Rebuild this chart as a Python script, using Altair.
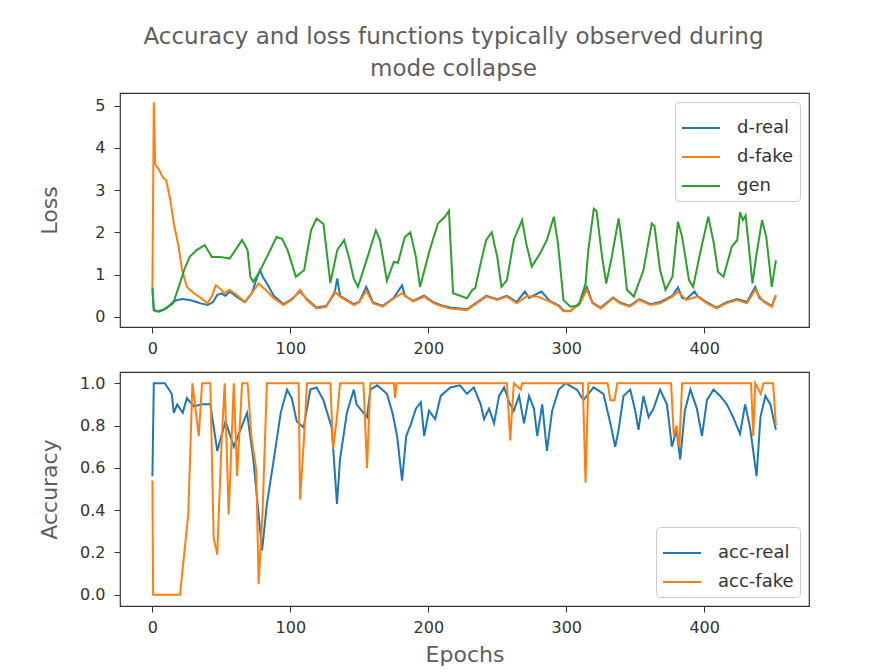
import altair as alt
import pandas as pd

# ---------------- data ----------------
gen_epochs = [0, 1, 3, 8, 15, 20, 23, 27, 32, 38, 43, 49, 56, 61, 65, 69, 71, 73, 77, 83,
              90, 94, 98, 104, 110, 115, 119, 124, 129, 134, 139, 143, 146, 149, 156, 162, 165,
              170, 175, 178, 183, 187, 191, 194, 201, 207, 212, 215, 216, 218, 228, 232, 234,
              239, 242, 246, 250, 253, 257, 262, 268, 271, 275, 281, 286, 291, 294, 298, 303,
              309, 314, 316, 320, 322, 326, 329, 333, 338, 341, 344, 349, 356, 362, 364, 368,
              372, 377, 381, 384, 389, 392, 397, 403, 407, 410, 414, 420, 424, 426, 428, 430,
              432, 435, 438, 442, 445, 449, 452]
gen_loss = [0.65, 0.18, 0.13, 0.17, 0.32, 0.80, 1.11, 1.42, 1.58, 1.70, 1.42, 1.42, 1.38, 1.62,
            1.82, 1.58, 0.95, 0.83, 1.03, 1.42, 1.89, 1.85, 1.58, 0.95, 1.11, 2.05, 2.33, 2.20,
            0.80, 1.58, 1.82, 1.34, 0.90, 0.71, 1.42, 2.05, 1.82, 0.85, 1.30, 1.28, 1.89, 2.00,
            1.42, 0.71, 1.58, 2.21, 2.37, 2.51, 1.82, 0.56, 0.44, 0.64, 0.68, 1.42, 1.82, 2.00,
            1.42, 0.71, 0.87, 1.82, 2.29, 1.74, 1.19, 1.50, 1.82, 2.37, 1.74, 0.40, 0.24, 0.27,
            0.79, 1.58, 2.56, 2.50, 1.42, 0.79, 1.42, 2.33, 1.58, 0.64, 0.48, 1.11, 2.21, 2.15,
            1.11, 0.64, 0.95, 2.25, 1.90, 0.87, 0.71, 1.50, 2.37, 1.74, 1.07, 0.95, 1.66, 1.82,
            2.48, 2.29, 2.40, 1.80, 0.79, 1.50, 2.29, 1.90, 0.71, 1.34]

dfake_epochs = [0, 1, 2, 5, 7, 10, 13, 15.5, 19, 21.5, 25, 30, 35, 40, 43, 46, 50, 52, 56, 61,
                67, 72, 77, 82, 88, 95, 101, 107, 112, 119, 126, 132, 136, 146, 150, 155, 160,
                167, 175, 181, 189, 197, 204, 210, 216, 228, 235, 242, 250, 257, 264, 271, 279,
                288, 295, 298, 303, 310, 315, 319, 325, 334, 339, 346, 353, 361, 368, 377, 381,
                387, 395, 402, 409, 416, 424, 431, 437, 443, 449, 452]
dfake_loss = [0.70, 5.08, 3.62, 3.47, 3.33, 3.23, 2.76, 2.21, 1.66, 1.11, 0.71, 0.56, 0.45, 0.32,
              0.48, 0.75, 0.64, 0.56, 0.64, 0.52, 0.36, 0.56, 0.79, 0.64, 0.44, 0.28, 0.40, 0.64,
              0.40, 0.20, 0.24, 0.60, 0.48, 0.28, 0.35, 0.62, 0.32, 0.24, 0.44, 0.56, 0.36, 0.48,
              0.32, 0.25, 0.20, 0.16, 0.32, 0.48, 0.40, 0.48, 0.32, 0.48, 0.48, 0.36, 0.24, 0.13,
              0.13, 0.32, 0.64, 0.32, 0.20, 0.44, 0.32, 0.24, 0.40, 0.28, 0.32, 0.48, 0.60, 0.40,
              0.48, 0.32, 0.20, 0.32, 0.40, 0.32, 0.64, 0.36, 0.24, 0.52]

dreal_epochs = [0, 1, 5, 10, 15, 18, 22, 27, 32, 35, 40, 44, 47, 50, 53, 56, 61, 67, 72, 75, 78,
                80, 83, 88, 95, 101, 107, 112, 119, 126, 132, 134, 136, 146, 150, 155, 160, 167,
                175, 181, 183, 189, 197, 204, 210, 216, 228, 235, 242, 250, 257, 264, 270, 273,
                279, 282, 288, 295, 298, 303, 310, 315, 319, 325, 334, 339, 346, 353, 361, 368,
                377, 381, 384, 387, 393, 395, 402, 409, 416, 424, 431, 437, 440, 443, 449, 452]
dreal_loss = [0.70, 0.15, 0.12, 0.20, 0.35, 0.40, 0.42, 0.40, 0.35, 0.32, 0.28, 0.35, 0.52, 0.55,
              0.50, 0.60, 0.48, 0.35, 0.55, 0.85, 1.11, 0.95, 0.79, 0.50, 0.30, 0.42, 0.60, 0.42,
              0.22, 0.26, 0.55, 0.91, 0.50, 0.30, 0.36, 0.71, 0.34, 0.26, 0.45, 0.75, 0.50, 0.38,
              0.50, 0.34, 0.27, 0.22, 0.18, 0.34, 0.50, 0.42, 0.50, 0.35, 0.60, 0.45, 0.55, 0.60,
              0.38, 0.26, 0.15, 0.14, 0.34, 0.71, 0.34, 0.22, 0.46, 0.34, 0.26, 0.42, 0.30, 0.35,
              0.50, 0.70, 0.45, 0.42, 0.60, 0.50, 0.34, 0.22, 0.34, 0.42, 0.35, 0.71, 0.45, 0.38,
              0.26, 0.50]

accreal_epochs = [0, 1, 9, 14, 15.5, 18, 22, 25, 30, 36, 42, 47, 53, 59, 65, 68.6, 73, 79.5, 83,
                  88, 93, 97.6, 101, 104.6, 109.6, 114.5, 119, 124, 130, 133.8, 136, 141, 146,
                  148, 153, 155.6, 158, 163, 170, 174, 177.4, 181, 184, 187.6, 191, 194.6, 197,
                  200.5, 205, 209, 216, 223, 228, 233, 238, 240.4, 244, 247.7, 251.3, 255, 258.6,
                  262, 265.8, 269.4, 273, 276.6, 279, 282.6, 286, 289.8, 294.6, 299.4, 307.6,
                  312.5, 319.8, 327, 332, 335.5, 338, 341.5, 346.4, 350, 352.4, 356, 359.7, 363.3,
                  368, 373, 376.6, 380, 382.6, 386, 390, 394.7, 398.4, 402, 406.8, 411.6, 416.4,
                  421, 426, 429.7, 433.3, 438, 440.8, 444.4, 448, 452]
accreal_vals = [0.56, 1.00, 1.00, 0.95, 0.86, 0.90, 0.86, 0.93, 0.89, 0.90, 0.90, 0.68, 0.82,
                0.70, 0.80, 0.86, 0.65, 0.21, 0.43, 0.64, 0.86, 0.97, 0.93, 0.82, 0.79, 0.97,
                0.98, 0.92, 0.79, 0.43, 0.64, 0.86, 0.97, 0.90, 0.86, 0.84, 0.97, 0.99, 0.95,
                0.86, 0.75, 0.54, 0.75, 0.81, 0.88, 0.91, 0.75, 0.87, 0.83, 0.94, 0.98, 0.99,
                0.95, 0.98, 0.90, 0.83, 0.88, 0.81, 0.94, 0.98, 0.91, 0.87, 0.94, 0.81, 0.94,
                0.88, 0.75, 0.90, 0.68, 0.87, 0.97, 1.00, 0.97, 0.92, 0.98, 0.95, 0.81, 0.70,
                0.78, 0.94, 0.97, 0.87, 0.78, 0.94, 0.84, 0.88, 0.97, 0.90, 0.70, 0.78, 0.64,
                0.87, 0.97, 0.88, 0.75, 0.92, 0.97, 0.94, 0.90, 0.84, 0.76, 0.90, 0.79, 0.56,
                0.84, 0.94, 0.90, 0.78]

accfake_epochs = [0, 0.5, 20, 26, 29, 33.6, 36, 42, 44.4, 47, 50, 52.4, 55.3, 59, 61.4, 65, 69,
                  71.7, 75.3, 77, 79.9, 83, 106, 107, 110, 112, 129, 131, 133.8, 136, 153, 155.6,
                  158, 175, 176, 177, 257, 259.4, 262, 267, 268, 312, 314, 316, 330, 332, 335,
                  337, 376, 378, 380, 382, 384, 434, 435.6, 437, 441, 443, 450, 452]
accfake_vals = [0.54, 0.00, 0.00, 0.38, 1.00, 0.75, 1.00, 1.00, 0.27, 0.19, 0.70, 1.00, 0.38,
                1.00, 0.56, 1.00, 1.00, 0.75, 0.59, 0.05, 0.40, 1.00, 1.00, 0.45, 0.75, 1.00,
                1.00, 0.69, 0.84, 1.00, 1.00, 0.60, 1.00, 1.00, 0.93, 1.00, 1.00, 0.73, 1.00,
                0.97, 1.00, 1.00, 0.53, 1.00, 1.00, 0.92, 0.92, 1.00, 1.00, 0.75, 0.80, 0.70,
                1.00, 1.00, 0.75, 1.00, 0.95, 1.00, 1.00, 0.80]

x_ticks = [0, 100, 200, 300, 400]
loss_ticks = [0, 1, 2, 3, 4, 5]
acc_ticks = [0.0, 0.2, 0.4, 0.6, 0.8, 1.0]

loss_names = ["d-real", "d-fake", "gen"]
acc_names = ["acc-real", "acc-fake"]
blue, orange, green = "#1f77b4", "#ff7f0e", "#2ca02c"

# ---------------- tables ----------------
def long(epochs, vals, name):
    return pd.DataFrame({"epoch": epochs, "value": vals, "series": name})

loss_df = pd.concat([long(dreal_epochs, dreal_loss, "d-real"),
                     long(dfake_epochs, dfake_loss, "d-fake"),
                     long(gen_epochs, gen_loss, "gen")], ignore_index=True)
acc_df = pd.concat([long(accreal_epochs, accreal_vals, "acc-real"),
                    long(accfake_epochs, accfake_vals, "acc-fake")], ignore_index=True)

TXT = "#5e5e5e"
FONT = "DejaVu Sans"
W, H = 689, 234

def xenc(show_title):
    return alt.X("epoch:Q",
                 scale=alt.Scale(domain=[-23.5, 476], nice=False, zero=False),
                 axis=alt.Axis(values=x_ticks, title="Epochs" if show_title else None,
                               grid=False, tickSize=6, labelPadding=7,
                               labelFontSize=16, labelFont=FONT, labelColor="#333",
                               tickColor="#333", domain=False,
                               titleFont=FONT, titleFontSize=22,
                               titleFontWeight="normal", titleColor=TXT, titlePadding=9))

def panel(df, names, colors, ydomain, yvalues, yfmt, ytitle, legend_orient, show_xtitle):
    layers = []
    for nm in names:
        layers.append(
            alt.Chart(df).transform_filter(alt.datum.series == nm).mark_line(strokeWidth=2).encode(
                x=xenc(show_xtitle),
                y=alt.Y("value:Q",
                        scale=alt.Scale(domain=ydomain, nice=False, zero=False),
                        axis=alt.Axis(values=yvalues, format=yfmt, title=ytitle, grid=False,
                                      tickSize=6, labelPadding=9, labelFontSize=16,
                                      labelFont=FONT, labelColor="#333",
                                      tickColor="#333", domain=False,
                                      titleFont=FONT, titleFontSize=22,
                                      titleFontWeight="normal", titleColor=TXT,
                                      titleX=-59)),
                color=alt.Color("series:N",
                                scale=alt.Scale(domain=names, range=colors),
                                legend=alt.Legend(title=None, orient=legend_orient, offset=9,
                                                  fillColor="white", strokeColor="#cccccc",
                                                  cornerRadius=4, padding=6,
                                                  labelFontSize=18, labelFont=FONT,
                                                  labelColor="#333",
                                                  symbolType="stroke", symbolSize=1444,
                                                  symbolStrokeWidth=2, labelOffset=16,
                                                  rowPadding=0)),
            )
        )
    return alt.layer(*layers).properties(width=W, height=H)

top = panel(loss_df, loss_names, [blue, orange, green], [-0.24, 5.3], loss_ticks, "d",
            "Loss", "top-right", False)
bottom = panel(acc_df, acc_names, [blue, orange], [-0.053, 1.053], acc_ticks, ".1f",
               "Accuracy", "bottom-right", True)

chart = alt.vconcat(top, bottom, spacing=14).resolve_scale(color="independent").resolve_legend(
    color="independent"
).properties(
    title=alt.TitleParams(
        text=["Accuracy and loss functions typically observed during", "mode collapse"],
        font=FONT, fontSize=23, fontWeight="normal", color=TXT, anchor="middle",
        lineHeight=32, offset=11, dx=30),
    padding={"left": 37, "top": 26, "right": 10, "bottom": 5},
).configure(background="white", view=alt.ViewConfig(stroke="#333333", strokeWidth=1.2))

chart.save("out.html", embed_options={"renderer": "svg", "actions": False})
